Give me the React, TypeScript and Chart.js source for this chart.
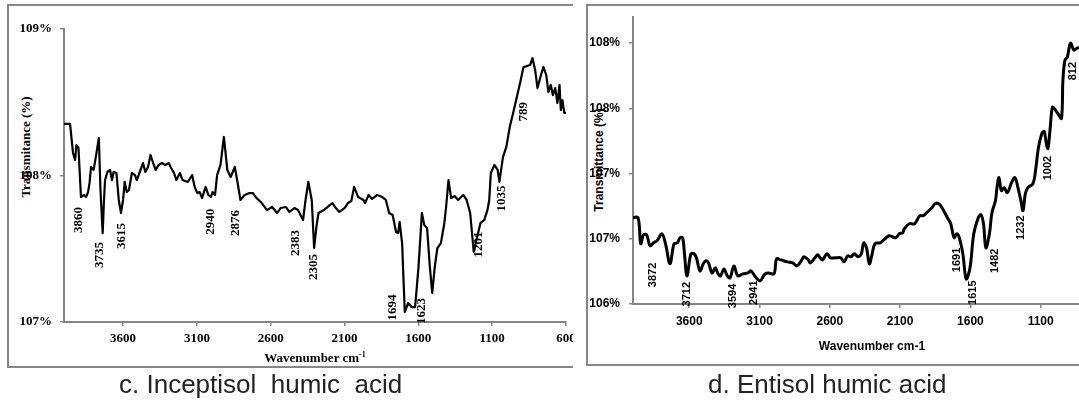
import React, { useEffect, useRef } from 'react';
import { Chart, registerables } from 'chart.js';

Chart.register(...registerables);

// ---------- c. Inceptisol humic acid ----------
const inceptisolWavenumber = [
  4000, 3959, 3939, 3925, 3916, 3902, 3885, 3864, 3851, 3837,
  3827, 3817, 3799, 3780, 3764, 3753, 3738, 3729, 3722, 3706,
  3688, 3675, 3664, 3645, 3629, 3614, 3600, 3589, 3575, 3560,
  3540, 3519, 3507, 3489, 3465, 3449, 3431, 3414, 3396, 3379,
  3360, 3337, 3314, 3291, 3278, 3255, 3239, 3215, 3197, 3162,
  3132, 3115, 3097, 3081, 3065, 3041, 3022, 3006, 2994, 2977,
  2963, 2940, 2917, 2894, 2871, 2843, 2824, 2805, 2777, 2743,
  2720, 2696, 2661, 2625, 2591, 2556, 2533, 2497, 2474, 2439,
  2415, 2381, 2364, 2345, 2322, 2306, 2289, 2276, 2240, 2206,
  2182, 2159, 2135, 2100, 2077, 2054, 2035, 2008, 1972, 1961,
  1937, 1913, 1879, 1844, 1820, 1798, 1774, 1751, 1737, 1727,
  1710, 1692, 1669, 1646, 1622, 1599, 1576, 1560, 1541, 1522,
  1506, 1489, 1471, 1447, 1424, 1412, 1396, 1378, 1354, 1331,
  1296, 1273, 1249, 1225, 1202, 1179, 1154, 1132, 1120, 1109,
  1085, 1063, 1051, 1027, 1004, 981, 958, 933, 911, 888,
  865, 843, 827, 809, 793, 775, 753, 734, 719, 703,
  689, 673, 658, 644, 635, 624, 612, 600,
];
const inceptisolTransmittance = [
  108.352, 108.352, 108.154, 108.106, 108.208, 108.188, 107.853, 107.867, 107.853, 107.887,
  107.949, 108.058, 108.038, 108.154, 108.256, 107.901, 107.607, 107.833, 107.969, 108.024,
  108.038, 107.969, 108.024, 108.017, 107.833, 107.744, 107.833, 107.956, 107.887, 107.901,
  108.017, 108.003, 107.969, 108.017, 108.085, 108.024, 108.058, 108.140, 108.085, 108.038,
  108.072, 108.085, 108.072, 108.085, 108.058, 108.017, 107.969, 108.017, 107.969, 107.956,
  108.003, 107.922, 107.880, 107.887, 107.846, 107.922, 107.867, 107.853, 107.887, 107.867,
  108.003, 108.072, 108.263, 108.038, 107.990, 108.058, 107.949, 107.833, 107.867, 107.880,
  107.880, 107.846, 107.812, 107.764, 107.785, 107.744, 107.778, 107.785, 107.751, 107.778,
  107.764, 107.696, 107.833, 107.956, 107.833, 107.505, 107.662, 107.744, 107.764, 107.792,
  107.812, 107.778, 107.751, 107.778, 107.812, 107.826, 107.922, 107.853, 107.833, 107.812,
  107.867, 107.840, 107.867, 107.853, 107.833, 107.744, 107.730, 107.614, 107.607, 107.683,
  107.539, 107.068, 107.130, 107.102, 107.102, 107.375, 107.744, 107.662, 107.642, 107.375,
  107.198, 107.375, 107.505, 107.539, 107.676, 107.785, 107.969, 107.846, 107.860, 107.833,
  107.867, 107.833, 107.744, 107.478, 107.580, 107.676, 107.696, 107.764, 107.833, 108.017,
  108.072, 108.038, 107.956, 108.126, 108.195, 108.331, 108.427, 108.536, 108.631, 108.741,
  108.747, 108.754, 108.802, 108.720, 108.597, 108.666, 108.741, 108.686, 108.570, 108.618,
  108.549, 108.597, 108.495, 108.618, 108.447, 108.515, 108.427, 108.427,
];
const inceptisolPeakLabels = ['3860', '3735', '3615', '2940', '2876', '2383', '2305', '1694', '1623', '1201', '1035', '789'];
const inceptisolPeakLabelWavenumber = [3902, 3757, 3612, 3006, 2835, 2428, 2306, 1774, 1576, 1195, 1039, 888];
const inceptisolPeakLabelTransmittance = [107.696, 107.457, 107.587, 107.685, 107.676, 107.539, 107.375, 107.099, 107.075, 107.529, 107.843, 108.435];
const inceptisolXTicks = [3600, 3100, 2600, 2100, 1600, 1100, 600];
const inceptisolYTicks = [107, 108, 109];
const inceptisolYTickLabels = ['107%', '108%', '109%'];

// ---------- d. Entisol humic acid ----------
const entisolWavenumber = [
  4000, 3964, 3945, 3925, 3903, 3879, 3854, 3829, 3794, 3769,
  3737, 3708, 3684, 3666, 3647, 3634, 3616, 3588, 3566, 3549,
  3524, 3500, 3481, 3463, 3438, 3415, 3398, 3378, 3353, 3329,
  3310, 3282, 3255, 3219, 3182, 3161, 3134, 3097, 3061, 3036,
  2997, 2979, 2950, 2901, 2864, 2834, 2803, 2784, 2754, 2738,
  2706, 2686, 2669, 2652, 2620, 2595, 2559, 2522, 2499, 2473,
  2450, 2425, 2400, 2376, 2359, 2339, 2319, 2302, 2279, 2241,
  2216, 2179, 2155, 2130, 2106, 2082, 2070, 2034, 1997, 1960,
  1936, 1911, 1874, 1852, 1825, 1802, 1764, 1740, 1716, 1697,
  1679, 1654, 1630, 1603, 1576, 1544, 1525, 1507, 1490, 1465,
  1447, 1422, 1411, 1397, 1380, 1361, 1337, 1307, 1283, 1262,
  1241, 1226, 1209, 1191, 1155, 1134, 1116, 1091, 1075, 1060,
  1049, 1034, 1017, 999, 974, 952, 942, 928, 911, 888,
  864, 841, 822, 793,
];
const entisolTransmittance = [
  106.662, 106.662, 106.462, 106.531, 106.531, 106.446, 106.469, 106.485, 106.538, 106.462,
  106.308, 106.462, 106.469, 106.508, 106.508, 106.385, 106.215, 106.385, 106.385, 106.354,
  106.254, 106.308, 106.331, 106.315, 106.238, 106.277, 106.238, 106.215, 106.269, 106.215,
  106.200, 106.292, 106.215, 106.231, 106.238, 106.254, 106.215, 106.177, 106.231, 106.238,
  106.231, 106.346, 106.338, 106.323, 106.315, 106.292, 106.331, 106.362, 106.338, 106.315,
  106.354, 106.377, 106.354, 106.338, 106.385, 106.354, 106.354, 106.354, 106.323, 106.369,
  106.362, 106.385, 106.362, 106.385, 106.469, 106.431, 106.308, 106.369, 106.462, 106.469,
  106.492, 106.523, 106.515, 106.508, 106.538, 106.546, 106.577, 106.615, 106.615, 106.677,
  106.677, 106.700, 106.738, 106.769, 106.769, 106.738, 106.662, 106.615, 106.508, 106.538,
  106.508, 106.385, 106.192, 106.277, 106.538, 106.662, 106.685, 106.615, 106.431, 106.538,
  106.700, 106.792, 106.892, 106.969, 106.869, 106.892, 106.854, 106.931, 106.969, 106.892,
  106.792, 106.715, 106.846, 106.892, 106.923, 107.046, 107.200, 107.308, 107.323, 107.231,
  107.192, 107.331, 107.508, 107.492, 107.454, 107.423, 107.715, 107.869, 107.892, 108.000,
  107.946, 107.962, 107.962, 107.931,
];
const entisolPeakLabels = ['3872', '3712', '3594', '2941', '1691', '1615', '1482', '1232', '1002', '812'];
const entisolPeakLabelWavenumber = [3855, 3615, 3292, 3141, 1699, 1581, 1422, 1238, 1049, 869];
const entisolPeakLabelTransmittance = [106.223, 106.075, 106.062, 106.087, 106.338, 106.087, 106.331, 106.585, 107.042, 107.785];
const entisolXTicks = [3600, 3100, 2600, 2100, 1600, 1100, 600];
const entisolYTicks = [106, 106.5, 107, 107.5, 108];
const entisolYTickLabels = ['106%', '107%', '107%', '108%', '108%'];

const AXIS_COLOR = '#868686';
const SERIF = '"Liberation Serif", "Times New Roman", serif';
const SANS = '"Liberation Sans", Arial, sans-serif';

const peakLabelPlugin = {
  id: 'peakLabels',
  afterDatasetsDraw(chart: any, _args: any, opts: any) {
    const { ctx } = chart;
    const xs = chart.scales.x;
    const ys = chart.scales.y;
    ctx.save();
    ctx.font = opts.font;
    ctx.fillStyle = '#000';
    ctx.textAlign = 'center';
    ctx.textBaseline = 'middle';
    (opts.labels as string[]).forEach((t, i) => {
      const px = xs.getPixelForValue(opts.xs[i]);
      const py = ys.getPixelForValue(opts.ys[i]);
      ctx.save();
      ctx.translate(px, py);
      ctx.rotate(-Math.PI / 2);
      ctx.fillText(t, 0, 0);
      ctx.restore();
    });
    ctx.restore();
  },
};

type Cfg = {
  wn: number[];
  vals: number[];
  lineWidth: number;
  tension: number;
  xTicks: number[];
  yTicks: number[];
  yTickLabels: string[];
  yMin: number;
  yMax: number;
  padding: { left: number; top: number; right: number; bottom: number };
  yWidth: number;
  xHeight: number;
  xPad: number;
  yPad: number;
  tickFont: any;
  peak: { labels: string[]; xs: number[]; ys: number[]; font: string };
};

function makeChart(canvas: HTMLCanvasElement, c: Cfg) {
  return new Chart(canvas, {
    type: 'line',
    data: {
      datasets: [
        {
          data: c.wn.map((w, i) => ({ x: w, y: c.vals[i] })),
          borderColor: '#000',
          borderWidth: c.lineWidth,
          pointRadius: 0,
          tension: c.tension,
          fill: false,
          borderJoinStyle: 'round',
          borderCapStyle: 'round',
        } as any,
      ],
    },
    options: {
      animation: false,
      responsive: false,
      events: [],
      layout: { padding: c.padding },
      plugins: {
        legend: { display: false },
        tooltip: { enabled: false },
        peakLabels: c.peak,
      } as any,
      scales: {
        x: {
          type: 'linear',
          reverse: true,
          min: 600,
          max: 4000,
          afterBuildTicks: (s: any) => {
            s.ticks = c.xTicks.map((v) => ({ value: v }));
          },
          afterFit: (s: any) => {
            s.height = c.xHeight;
          },
          grid: { drawOnChartArea: false, drawTicks: true, tickLength: 4, color: AXIS_COLOR, lineWidth: 1.5 },
          border: { display: true, color: AXIS_COLOR, width: 2 },
          ticks: {
            autoSkip: false,
            maxRotation: 0,
            minRotation: 0,
            padding: c.xPad,
            color: '#000',
            font: c.tickFont,
            callback: (v: any) => String(v),
          },
        },
        y: {
          type: 'linear',
          min: c.yMin,
          max: c.yMax,
          afterBuildTicks: (s: any) => {
            s.ticks = c.yTicks.map((v) => ({ value: v }));
          },
          afterFit: (s: any) => {
            s.width = c.yWidth;
          },
          grid: { drawOnChartArea: false, drawTicks: true, tickLength: 4, color: AXIS_COLOR, lineWidth: 1.5 },
          border: { display: true, color: AXIS_COLOR, width: 2 },
          ticks: {
            padding: c.yPad,
            color: '#000',
            font: c.tickFont,
            callback: (_v: any, i: number) => c.yTickLabels[i],
          },
        },
      },
    } as any,
    plugins: [peakLabelPlugin as any],
  });
}

const abs = (o: React.CSSProperties): React.CSSProperties => ({ position: 'absolute', ...o });
const rotTitle = (cx: number, cy: number, font: string): React.CSSProperties => ({
  position: 'absolute',
  left: cx,
  top: cy,
  transform: 'translate(-50%, -50%) rotate(-90deg)',
  whiteSpace: 'nowrap',
  font,
  color: '#000',
  lineHeight: 1,
});
const hTitle = (cx: number, cy: number, font: string): React.CSSProperties => ({
  position: 'absolute',
  left: cx,
  top: cy,
  transform: 'translate(-50%, -50%)',
  whiteSpace: 'nowrap',
  font,
  color: '#000',
  lineHeight: 1,
});

export default function App() {
  const leftRef = useRef<HTMLCanvasElement>(null);
  const rightRef = useRef<HTMLCanvasElement>(null);

  useEffect(() => {
    const left = makeChart(leftRef.current!, {
      wn: inceptisolWavenumber,
      vals: inceptisolTransmittance,
      lineWidth: 2.2,
      tension: 0,
      xTicks: inceptisolXTicks,
      yTicks: inceptisolYTicks,
      yTickLabels: inceptisolYTickLabels,
      yMin: 107,
      yMax: 109,
      padding: { left: 0, top: 29, right: 54, bottom: 0 },
      yWidth: 64,
      xHeight: 78,
      xPad: 5,
      yPad: 8,
      tickFont: { family: SERIF, size: 13, weight: 'bold' },
      peak: {
        labels: inceptisolPeakLabels,
        xs: inceptisolPeakLabelWavenumber,
        ys: inceptisolPeakLabelTransmittance,
        font: 'bold 13px ' + SERIF,
      },
    });
    const right = makeChart(rightRef.current!, {
      wn: entisolWavenumber,
      vals: entisolTransmittance,
      lineWidth: 3,
      tension: 0.35,
      xTicks: entisolXTicks,
      yTicks: entisolYTicks,
      yTickLabels: entisolYTickLabels,
      yMin: 106,
      yMax: 108.2,
      padding: { left: 0, top: 17, right: 69, bottom: 0 },
      yWidth: 73,
      xHeight: 96,
      xPad: 6,
      yPad: 9,
      tickFont: { family: SANS, size: 12, weight: 'bold' },
      peak: {
        labels: entisolPeakLabels,
        xs: entisolPeakLabelWavenumber,
        ys: entisolPeakLabelTransmittance,
        font: 'bold 11px ' + SANS,
      },
    });
    return () => {
      left.destroy();
      right.destroy();
    };
  }, []);

  return (
    <div style={abs({ position: 'fixed', left: 0, top: 0, width: 1079, height: 400, overflow: 'hidden', background: '#fff' })}>
      {/* left panel, clipped at its right edge */}
      <div style={abs({ left: 0, top: 0, width: 573, height: 400, overflow: 'hidden' })}>
        <div style={abs({ left: 7, top: 4, width: 640, height: 364, border: '2px solid ' + AXIS_COLOR, boxSizing: 'border-box' })} />
        <div style={rotTitle(25, 147, 'bold 13px ' + SERIF)}>Transmitance (%)</div>
        <canvas ref={leftRef} width={620} height={400} style={abs({ left: 0, top: 0, width: 620, height: 400 })} />
        <div style={hTitle(315, 357, 'bold 13px ' + SERIF)}>
          Wavenumber cm<span style={{ fontSize: 8, position: 'relative', top: -5 }}>-1</span>
        </div>
      </div>
      {/* right panel */}
      <div style={abs({ left: 586, top: 4, width: 640, height: 362, border: '2px solid ' + AXIS_COLOR, boxSizing: 'border-box' })} />
      <div style={rotTitle(599, 160, 'bold 12px ' + SANS)}>Transmittance (%)</div>
      <canvas ref={rightRef} width={620} height={400} style={abs({ left: 560, top: 0, width: 620, height: 400 })} />
      <div style={hTitle(872, 346, 'bold 12px ' + SANS)}>Wavenumber cm-1</div>
      {/* captions */}
      <div style={abs({ left: 119, top: 371, font: '26px ' + SANS, lineHeight: '26px', color: '#222', whiteSpace: 'pre' })}>
        {'c. Inceptisol  humic  acid'}
      </div>
      <div style={abs({ left: 708, top: 371, font: '26px ' + SANS, lineHeight: '26px', color: '#222', whiteSpace: 'pre' })}>
        {'d. Entisol humic acid'}
      </div>
    </div>
  );
}
